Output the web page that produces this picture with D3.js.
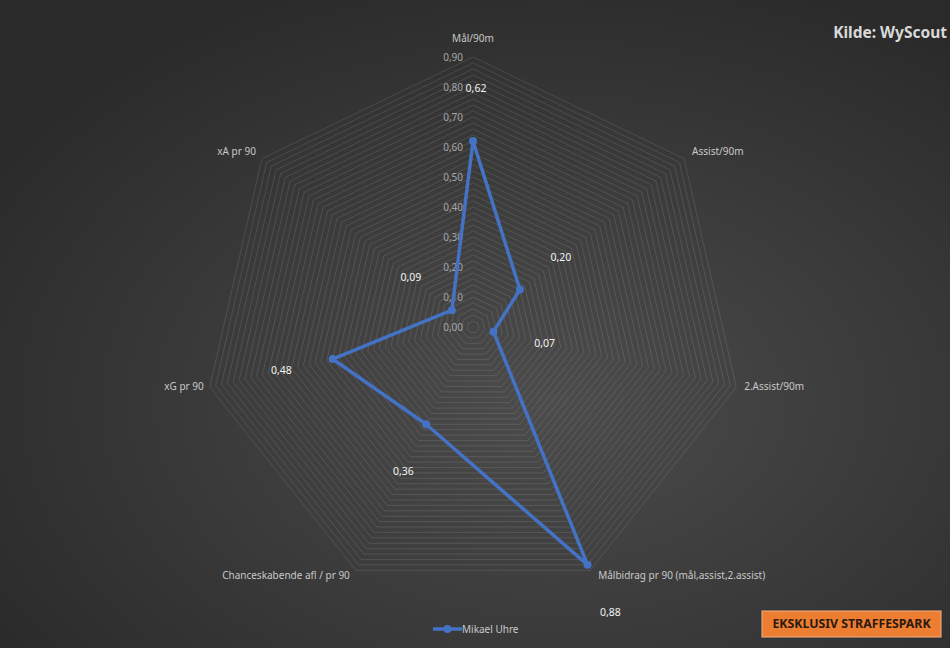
<!DOCTYPE html>
<html>
<head>
<meta charset="utf-8">
<script src="https://cdn.jsdelivr.net/npm/d3@7"></script>
<style>
  body { margin: 0; background: #333; }
  svg text { font-family: "Noto Sans", "Open Sans", sans-serif; }
</style>
</head>
<body>
<svg id="chart" width="950" height="648"></svg>
<script>
var categories = ["Mål/90m", "Assist/90m", "2.Assist/90m", "Målbidrag pr 90 (mål,assist,2.assist)",
  "Chanceskabende afl / pr 90", "xG pr 90", "xA pr 90"];
var values = [0.62, 0.20, 0.07, 0.88, 0.36, 0.48, 0.09];
var tickValues = [0, 0.1, 0.2, 0.3, 0.4, 0.5, 0.6, 0.7, 0.8, 0.9];
var seriesName = "Mikael Uhre";

var svg = d3.select("#chart"),
  width = +svg.attr("width"), height = +svg.attr("height");
var cx = 473, cy = 327, radius = 270;
var fmt = function(v) { return d3.format(".2f")(v).replace(".", ","); };

// background
var defs = svg.append("defs");
var grad = defs.append("radialGradient").attr("id", "bg")
  .attr("cx", "58%").attr("cy", "62%").attr("r", "70%");
grad.append("stop").attr("offset", "0%").attr("stop-color", "#4c4c4c");
grad.append("stop").attr("offset", "100%").attr("stop-color", "#2a2a2a");
svg.append("rect").attr("width", width).attr("height", height).attr("fill", "url(#bg)");

var r = d3.scaleLinear().domain([0, 0.9]).range([0, radius]);
var angle = d3.scaleLinear().domain([0, categories.length]).range([0, 2 * Math.PI]);

function px(i, v) { return cx + r(v) * Math.sin(angle(i)); }
function py(i, v) { return cy - r(v) * Math.cos(angle(i)); }

var g = svg.append("g");

// grid rings (minor 0.02)
var rings = d3.range(0, 46).map(function(k) { return k * 0.02; });
g.selectAll(".ring").data(rings.slice(1)).enter().append("polygon")
  .attr("class", "ring")
  .attr("points", function(v) {
    return categories.map(function(c, i) { return px(i, v) + "," + py(i, v); }).join(" ");
  })
  .attr("fill", "none")
  .attr("stroke", "rgba(255,255,255,0.11)")
  .attr("stroke-width", 1);

// tick labels
g.selectAll(".tick").data(tickValues).enter().append("text")
  .attr("x", cx - 10).attr("y", function(v) { return cy - r(v); })
  .attr("dy", "0.35em")
  .attr("text-anchor", "end")
  .attr("font-size", "10px")
  .attr("fill", "#a6a6a6")
  .text(fmt);

// category labels
g.selectAll(".cat").data(categories).enter().append("text")
  .attr("x", function(d, i) {
    var s = Math.sin(angle(i));
    return px(i, 0.9) + (Math.abs(s) < 0.01 ? 0 : (s > 0 ? 8 : -6));
  })
  .attr("y", function(d, i) {
    var c = Math.cos(angle(i));
    if (Math.abs(Math.sin(angle(i))) < 0.01) return py(i, 0.9) - 19;
    return py(i, 0.9) - c * 8 - 2;
  })
  .attr("dy", "0.35em")
  .attr("text-anchor", function(d, i) {
    var s = Math.sin(angle(i));
    return Math.abs(s) < 0.01 ? "middle" : (s > 0 ? "start" : "end");
  })
  .attr("font-size", "10px")
  .attr("fill", "#c8c8c8")
  .text(function(d) { return d; });

// series line
var line = d3.lineRadial()
  .angle(function(d, i) { return angle(i); })
  .radius(function(d) { return r(d); })
  .curve(d3.curveLinearClosed);

var series = g.append("g").attr("transform", "translate(" + cx + "," + cy + ")");
series.append("path")
  .datum(values)
  .attr("d", line)
  .attr("fill", "none")
  .attr("stroke", "#4472c4")
  .attr("stroke-width", 3.5)
  .attr("stroke-linejoin", "round");

g.selectAll(".dot").data(values).enter().append("circle")
  .attr("cx", function(d, i) { return px(i, d); })
  .attr("cy", function(d, i) { return py(i, d); })
  .attr("r", 4)
  .attr("fill", "#4472c4");

// data labels
g.selectAll(".val").data(values).enter().append("text")
  .attr("x", function(d, i) { return px(i, d + 0.175) + (i === 0 ? 3 : 0); })
  .attr("y", function(d, i) { return py(i, d + 0.175); })
  .attr("dy", "0.35em")
  .attr("text-anchor", "middle")
  .attr("font-size", "10.5px")
  .attr("fill", "#f2f2f2")
  .text(fmt);

// legend
var leg = svg.append("g").attr("transform", "translate(433,629)");
leg.append("line").attr("x1", 0).attr("x2", 29).attr("y1", 0).attr("y2", 0)
  .attr("stroke", "#4472c4").attr("stroke-width", 3.5);
leg.append("circle").attr("cx", 14.5).attr("cy", 0).attr("r", 4).attr("fill", "#4472c4");
leg.append("text").attr("x", 29).attr("y", 0).attr("dy", "0.35em")
  .attr("font-size", "10px").attr("fill", "#c8c8c8").text(seriesName);

// source
svg.append("text").attr("x", 947).attr("y", 33).attr("dy", "0.35em")
  .attr("text-anchor", "end").attr("font-size", "15.5px").attr("font-weight", "bold")
  .attr("fill", "#d9d9d9").text("Kilde: WyScout");

// badge
svg.append("rect").attr("x", 762).attr("y", 611).attr("width", 179).attr("height", 26)
  .attr("fill", "#ed7d31").attr("stroke", "#f4b183").attr("stroke-width", 1);
svg.append("text").attr("x", 851.5).attr("y", 624).attr("dy", "0.35em")
  .attr("text-anchor", "middle").attr("font-size", "12.3px").attr("font-weight", "bold")
  .attr("fill", "#2b1a10").text("EKSKLUSIV STRAFFESPARK");
</script>
</body>
</html>
